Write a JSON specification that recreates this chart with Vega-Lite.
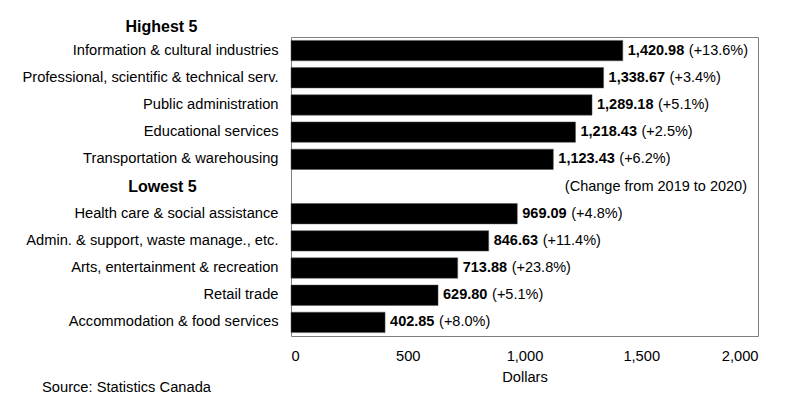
{
  "$schema": "https://vega.github.io/schema/vega-lite/v6.json",
  "width": 467,
  "height": 299,
  "autosize": {"type": "none"},
  "padding": {"left": 291, "top": 37, "right": 28, "bottom": 72},
  "background": "white",
  "config": {
    "font": "Liberation Sans",
    "view": {"stroke": "#7f7f7f", "strokeWidth": 1},
    "text": {"fontSize": 14.5, "color": "black"}
  },
  "title": {
    "text": "Source: Statistics Canada",
    "orient": "bottom",
    "anchor": "start",
    "frame": "group",
    "dx": -249,
    "offset": -4,
    "fontSize": 14.7,
    "fontWeight": "normal",
    "color": "black",
    "baseline": "top"
  },
  "data": {
    "values": [
      {"industry": "Information & cultural industries", "value": 1420.98, "change": "(+13.6%)"},
      {"industry": "Professional, scientific & technical serv.", "value": 1338.67, "change": "(+3.4%)"},
      {"industry": "Public administration", "value": 1289.18, "change": "(+5.1%)"},
      {"industry": "Educational services", "value": 1218.43, "change": "(+2.5%)"},
      {"industry": "Transportation & warehousing", "value": 1123.43, "change": "(+6.2%)"},
      {"industry": "Health care & social assistance", "value": 969.09, "change": "(+4.8%)"},
      {"industry": "Admin. & support, waste manage., etc.", "value": 846.63, "change": "(+11.4%)"},
      {"industry": "Arts, entertainment & recreation", "value": 713.88, "change": "(+23.8%)"},
      {"industry": "Retail trade", "value": 629.80, "change": "(+5.1%)"},
      {"industry": "Accommodation & food services", "value": 402.85, "change": "(+8.0%)"}
    ]
  },
  "encoding": {
    "y": {
      "field": "industry",
      "type": "nominal",
      "scale": {
        "domain": [
          "Information & cultural industries",
          "Professional, scientific & technical serv.",
          "Public administration",
          "Educational services",
          "Transportation & warehousing",
          "Lowest 5",
          "Health care & social assistance",
          "Admin. & support, waste manage., etc.",
          "Arts, entertainment & recreation",
          "Retail trade",
          "Accommodation & food services"
        ],
        "paddingInner": 0.25,
        "paddingOuter": 0.125
      },
      "axis": {
        "title": "Highest 5",
        "titleAngle": 0,
        "titleAlign": "center",
        "titleBaseline": "middle",
        "titleX": -130,
        "titleY": -11,
        "titleFontSize": 16,
        "titleFontWeight": "bold",
        "titleColor": "black",
        "domain": false,
        "ticks": false,
        "tickSize": 0,
        "labelFontSize": {"condition": {"test": "datum.value === 'Lowest 5'", "value": 16}, "value": 14.7},
        "labelColor": "black",
        "labelLimit": 400,
        "labelFontWeight": {"condition": {"test": "datum.value === 'Lowest 5'", "value": "bold"}, "value": "normal"},
        "labelAlign": {"condition": {"test": "datum.value === 'Lowest 5'", "value": "center"}, "value": "right"},
        "labelPadding": {"condition": {"test": "datum.value === 'Lowest 5'", "value": 129}, "value": 13}
      }
    }
  },
  "layer": [
    {
      "mark": {"type": "bar", "color": "black", "stroke": "#555555", "strokeWidth": 0.5},
      "encoding": {
        "x": {
          "field": "value",
          "type": "quantitative",
          "scale": {"domain": [0, 2000], "nice": false},
          "axis": {
            "title": "Dollars",
            "values": [0, 500, 1000, 1500, 2000],
            "format": ",.0f",
            "grid": false,
            "domain": false,
            "ticks": false,
            "tickSize": 0,
            "labelPadding": 12,
            "labelFontSize": 14.7,
            "labelColor": "black",
            "titleFontSize": 14.7,
            "titleFontWeight": "normal",
            "titleColor": "black",
            "titlePadding": 7
          }
        }
      }
    },
    {
      "mark": {"type": "text", "align": "left", "baseline": "middle", "dx": 5, "fontWeight": "bold"},
      "encoding": {
        "x": {"field": "value", "type": "quantitative"},
        "text": {"field": "value", "type": "quantitative", "format": ",.2f"}
      }
    },
    {
      "transform": [{"filter": "datum.value >= 1000"}],
      "mark": {"type": "text", "align": "left", "baseline": "middle", "dx": 66},
      "encoding": {
        "x": {"field": "value", "type": "quantitative"},
        "text": {"field": "change"}
      }
    },
    {
      "transform": [{"filter": "datum.value < 1000"}],
      "mark": {"type": "text", "align": "left", "baseline": "middle", "dx": 54},
      "encoding": {
        "x": {"field": "value", "type": "quantitative"},
        "text": {"field": "change"}
      }
    },
    {
      "data": {"values": [{"industry": "Lowest 5", "value": 2000, "note": "(Change from 2019 to 2020)"}]},
      "mark": {"type": "text", "align": "right", "baseline": "middle", "dx": -11},
      "encoding": {
        "x": {"field": "value", "type": "quantitative"},
        "text": {"field": "note"}
      }
    }
  ]
}
